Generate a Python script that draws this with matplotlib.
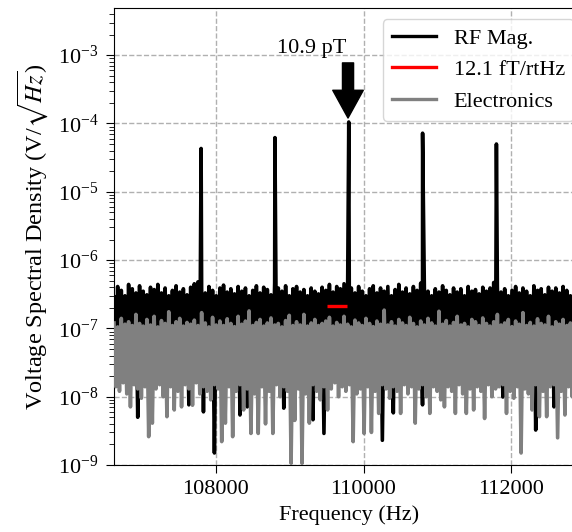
import numpy as np
import matplotlib
matplotlib.use("Agg")
import matplotlib.pyplot as plt
from matplotlib.lines import Line2D

plt.rcParams['font.family'] = ['Liberation Serif', 'DejaVu Serif']
plt.rcParams['mathtext.fontset'] = 'stix'
plt.rcParams['font.size'] = 16

# Frequency grid of the noise traces (Hz)
f_start, f_stop, n_bins = 106620, 113000, 130

# RF magnetometer noise: per-bin upper and lower excursions (nV/sqrt(Hz))
black_hi = [
    290, 410, 360, 300, 440, 380, 330, 420, 350, 310,
    400, 370, 440, 330, 390, 300, 360, 420, 340, 380,
    310, 400, 450, 480, 380, 330, 410, 360, 300, 390,
    430, 340, 380, 320, 410, 350, 390, 300, 360, 420,
    330, 400, 370, 310, 460, 390, 350, 420, 300, 380,
    410, 340, 370, 300, 390, 350, 320, 400, 360, 440,
    340, 410, 380, 450, 470, 390, 330, 410, 350, 300,
    380, 420, 330, 390, 350, 410, 300, 370, 440, 340,
    390, 320, 410, 360, 460, 400, 350, 300, 380, 340,
    420, 360, 310, 390, 340, 380, 300, 410, 350, 370,
    320, 400, 350, 390, 470, 410, 340, 380, 300, 360,
    410, 330, 390, 350, 300, 420, 360, 380, 310, 400,
    350, 390, 330, 410, 360, 300, 380, 340, 400, 370,
]
black_lo = [
    30, 28, 34, 26, 32, 29, 5.0, 31, 27, 33,
    28, 30, 26, 35, 29, 27, 31, 28, 33, 30,
    7.6, 29, 32, 27, 6.0, 30, 28, 1.5, 31, 29,
    27, 33, 28, 30, 5.4, 29, 7.1, 32, 27, 30,
    28, 31, 29, 26, 33, 30, 6.8, 28, 31, 27,
    30, 29, 32, 28, 4.6, 31, 27, 2.9, 30, 28,
    33, 27, 30, 29, 31, 28, 32, 26, 30, 29,
    27, 31, 28, 2.3, 30, 29, 5.8, 32, 28, 30,
    27, 31, 29, 33, 7.6, 28, 30, 27, 32, 29,
    31, 28, 30, 27, 33, 29, 28, 31, 30, 27,
    29, 32, 28, 30, 27, 31, 9.9, 28, 30, 29,
    32, 27, 30, 28, 31, 3.25, 29, 27, 33, 30,
    7.1, 28, 31, 29, 27, 30, 32, 28, 29, 31,
]

# Electronics noise floor: per-bin upper and lower excursions (nV/sqrt(Hz))
gray_hi = [
    120, 105, 140, 115, 125, 110, 160, 118, 108, 135,
    112, 150, 105, 130, 118, 175, 110, 125, 140, 108,
    122, 115, 132, 110, 170, 120, 105, 145, 112, 128,
    110, 138, 118, 106, 150, 115, 128, 180, 110, 122,
    135, 108, 120, 142, 112, 118, 105, 130, 155, 110,
    125, 112, 160, 108, 120, 135, 110, 118, 128, 145,
    108, 122, 112, 150, 115, 105, 132, 120, 110, 140,
    118, 106, 128, 115, 185, 112, 125, 108, 135, 120,
    110, 145, 118, 105, 128, 112, 140, 120, 108, 178,
    115, 130, 108, 122, 150, 112, 118, 105, 135, 125,
    110, 142, 118, 108, 125, 160, 112, 120, 135, 106,
    128, 115, 170, 110, 122, 108, 138, 118, 112, 150,
    105, 125, 115, 135, 110, 120, 145, 108, 128, 118,
]
gray_lo = [
    14, 12, 16, 11, 7.1, 15, 13, 9.5, 14, 2.6,
    4.1, 13, 15, 10, 5.1, 14, 6.4, 12, 7.1, 15,
    13, 7.5, 16, 11, 14, 12, 9, 15, 13, 2.2,
    4.1, 14, 2.6, 12, 15, 6.4, 13, 2.9, 11, 2.9,
    14, 4.0, 12, 2.9, 15, 10, 14, 12, 1.06, 4.5,
    13, 1.06, 11, 4.1, 15, 12, 9, 14, 6.4, 13,
    16, 10, 14, 12, 15, 2.2, 11, 13, 2.9, 14,
    3.0, 12, 5.7, 15, 13, 9.5, 14, 12, 5.7, 15,
    11, 14, 4.1, 13, 15, 10, 5.7, 14, 12, 9,
    7.1, 14, 12, 5.7, 15, 11, 5.7, 13, 6.4, 14,
    12, 4.8, 15, 10, 13, 14, 15, 5.7, 12, 9.5,
    14, 1.5, 13, 11, 6.4, 15, 5.1, 12, 5.1, 14,
    15, 2.5, 12, 5.4, 14, 10, 13, 8.5, 15, 12,
]

# Driven RF field peaks (Hz, V/sqrt(Hz))
peak_freqs = [107800, 108800, 109800, 110800, 111800]
peak_vals = [4.3e-5, 6.2e-5, 1.05e-4, 7.2e-5, 5.0e-5]

# Sensitivity level marked near the central peak
sens_f = [109500, 109775]
sens_v = 2.15e-7

legend_labels = ["RF Mag.", "12.1 fT/rtHz", "Electronics"]
peak_label = "10.9 pT"

freqs = np.linspace(f_start, f_stop, n_bins)
step = freqs[1] - freqs[0]


def trace(hi, lo):
    x = np.empty(2 * n_bins)
    y = np.empty(2 * n_bins)
    x[0::2] = freqs
    x[1::2] = freqs + step / 2
    y[0::2] = np.asarray(hi) * 1e-9
    y[1::2] = np.asarray(lo) * 1e-9
    return x, y


bx, by = trace(black_hi, black_lo)
bx = np.concatenate([bx, peak_freqs])
by = np.concatenate([by, peak_vals])
order = np.argsort(bx, kind="stable")
bx, by = bx[order], by[order]
gx, gy = trace(gray_hi, gray_lo)

fig = plt.figure(figsize=(5.72, 5.32), dpi=100)
ax = fig.add_axes([114 / 572, 67 / 532, 471 / 572, 457 / 532])

ax.plot(bx, by, color="black", lw=2.6, zorder=2)
ax.plot(gx, gy, color="#808080", lw=2.6, zorder=3)
ax.plot(sens_f, [sens_v, sens_v], color="red", lw=2.4, zorder=4,
        solid_capstyle="butt")

ax.set_yscale("log")
ax.set_xlim(f_start, f_stop)
ax.set_ylim(1e-9, 4.9e-3)
ax.set_xticks([108000, 110000, 112000])
ax.set_xticklabels(["108000", "110000", "112000"])
ax.grid(True, which="major", linestyle="--", color="#b0b0b0", lw=1.0)
ax.tick_params(which="major", length=6, pad=5)
ax.tick_params(which="minor", length=3.5)

ax.set_xlabel("Frequency (Hz)")
ax.set_ylabel(r"Voltage Spectral Density (V/$\sqrt{Hz}$)", fontsize=17.5,
              labelpad=6)

ax.annotate("", xy=(109790, 1.2e-4), xytext=(109790, 7.7e-4),
            arrowprops=dict(facecolor="black", edgecolor="black",
                            width=8, headwidth=22, headlength=20, shrink=0))
ax.text(109300, 1.08e-3, peak_label, ha="center", va="baseline")

handles = [Line2D([], [], color="black", lw=2.4),
           Line2D([], [], color="red", lw=2.4),
           Line2D([], [], color="#808080", lw=2.4)]
ax.legend(handles, legend_labels, loc="upper right")

fig.savefig("out.png", dpi=100)
